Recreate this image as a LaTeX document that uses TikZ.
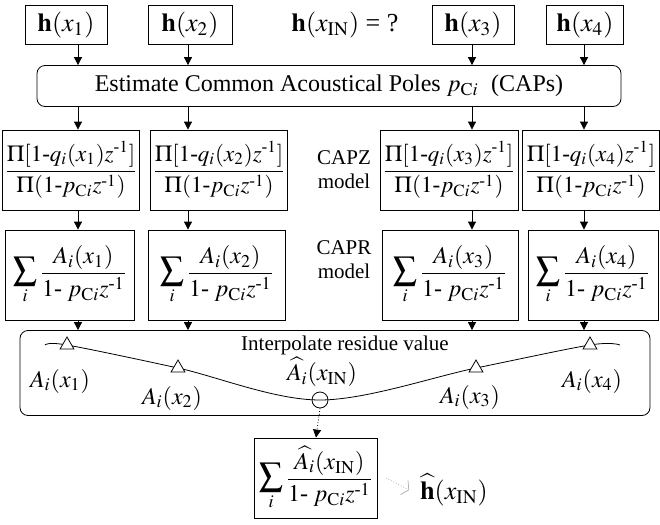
\documentclass[tikz,border=0pt]{standalone}
\usepackage{amsmath}
\usepackage{mathptmx}
\usepackage{fontspec}
\setmainfont{Liberation Serif}
\usetikzlibrary{arrows.meta,shapes.geometric}
\tikzset{
  pin/.style={-{Triangle[length=4pt,width=4pt]}},
  blk/.style={draw, inner sep=1pt, font=\fontsize{12}{14}\selectfont},
  hbox/.style={blk, minimum height=19.5pt, font=\fontsize{13}{15}\selectfont},
  zbox/.style={blk, minimum height=40pt, font=\fontsize{11.5}{13}\selectfont},
  rbox/.style={blk, minimum height=45pt},
  tri/.style={draw, fill=white, regular polygon, regular polygon sides=3, minimum size=8pt, inner sep=0pt},
  lbl/.style={font=\fontsize{10.5}{12}\selectfont, align=center},
}
\newcommand{\zinv}{z^{\text{-}1}}
\newcommand{\bigsum}{\mathop{\text{\fontsize{17}{19}\selectfont$\sum$}}\limits}
\newcommand{\capz}[1]{$\dfrac{\Pi[1\text{-}q_i(x_{#1})\zinv]}{\Pi(1\text{-}p_{\mathrm{C}i}\zinv)}$}
\newcommand{\capr}[1]{$\bigsum_i\dfrac{#1}{1\text{-}\;p_{\mathrm{C}i}\zinv}$}

\begin{document}
\begin{tikzpicture}[x=0.5pt,y=-0.5pt, font=\fontsize{12}{14}\selectfont]
  \useasboundingbox (0,0) rectangle (660,525);
  % arrow columns
  \coordinate (c1) at (78,0);
  \coordinate (c2) at (188,0);
  \coordinate (c3) at (472,0);
  \coordinate (c4) at (584,0);
  % measured responses
  \node[hbox, minimum width=41pt] (hx1) at (66,25) {$\mathbf{h}(x_1)$};
  \node[hbox, minimum width=42pt] (hx2) at (190,25) {$\mathbf{h}(x_2)$};
  \node[font=\fontsize{13}{15}\selectfont] (hxin) at (345,25) {$\mathbf{h}(x_{\mathrm{IN}})$ = ?};
  \node[hbox, minimum width=41pt] (hx3) at (473,25) {$\mathbf{h}(x_3)$};
  \node[hbox, minimum width=38.5pt] (hx4) at (585,25) {$\mathbf{h}(x_4)$};
  % common poles
  \node[blk, rounded corners=4pt, minimum width=292pt, minimum height=20.5pt] (caps) at (329,86)
    {Estimate Common Acoustical Poles $p_{\mathrm{C}i}$\; (CAPs)};
  % CAPZ models
  \node[zbox, minimum width=66.5pt] (z1) at (71,170) {\capz{1}};
  \node[zbox, minimum width=64.5pt] (z2) at (219,170) {\capz{2}};
  \node[zbox, minimum width=69pt] (z3) at (449,170) {\capz{3}};
  \node[zbox, minimum width=67.5pt] (z4) at (591,170) {\capz{4}};
  \node[lbl] (zlbl) at (344,170) {CAPZ\\model};
  % CAPR models
  \node[rbox, minimum width=64.5pt] (r1) at (70,275) {\capr{A_i(x_1)}};
  \node[rbox, minimum width=68.5pt] (r2) at (217,275) {\capr{A_i(x_2)}};
  \node[rbox, minimum width=68pt] (r3) at (450,275) {\capr{A_i(x_3)}};
  \node[rbox, minimum width=65pt] (r4) at (593,275) {\capr{A_i(x_4)}};
  \node[lbl] (rlbl) at (344,260) {CAPR\\model};
  % interpolation
  \node[draw, rounded corners=4pt, minimum width=315pt, minimum height=42.5pt] (ip) at (335,373) {};
  \node[lbl] (iptxt) at (345,345) {Interpolate residue value};
  \coordinate (s0) at (45,345);
  \coordinate (s1) at (67,345);
  \coordinate (s2) at (178,368);
  \coordinate (s3) at (476,368);
  \coordinate (s4) at (590,345);
  \coordinate (s5) at (620,345);
  \node[draw, circle, minimum size=8pt, inner sep=0pt] (sin) at (320,400) {};
  \draw plot[smooth, tension=0.55] coordinates {(s0) (s1) (s2) (sin.center) (s3) (s4) (s5)};
  \foreach \p in {s1,s2,s3,s4} \node[tri] at (\p) {};
  \node (a1) at (60,381) {$A_i(x_1)$};
  \node (a2) at (172,398) {$A_i(x_2)$};
  \node (ain) at (322,372) {$\widehat{A_i}(x_{\mathrm{IN}})$};
  \node (a3) at (470,397) {$A_i(x_3)$};
  \node (a4) at (592,381) {$A_i(x_4)$};
  % synthesis
  \node[rbox, minimum width=61.5pt, minimum height=40pt] (bot) at (316,478) {\capr{\widehat{A_i}(x_{\mathrm{IN}})}};
  \node[font=\fontsize{13}{15}\selectfont] (hhat) at (454,490) {$\widehat{\mathbf{h}}(x_{\mathrm{IN}})$};
  % connectors
  \foreach \c/\h in {c1/hx1,c2/hx2,c3/hx3,c4/hx4}
    \draw[pin] (\c |- \h.south) -- (\c |- caps.north);
  \foreach \c/\z/\r in {c1/z1/r1,c2/z2/r2,c3/z3/r3,c4/z4/r4} {
    \draw[pin] (\c |- caps.south) -- (\c |- \z.north);
    \draw[pin] (\c |- \z.south) -- (\c |- \r.north);
    \draw[pin] (\c |- \r.south) -- (\c |- ip.north);
  }
  \draw[pin, densely dotted] (sin.south) -- (bot.north);
  \draw[gray!60, densely dotted, -{Straight Barb[length=2.5pt,width=8pt]}] ([xshift=4pt]bot.east) -- ([xshift=-2pt]hhat.west);
\end{tikzpicture}
\end{document}
